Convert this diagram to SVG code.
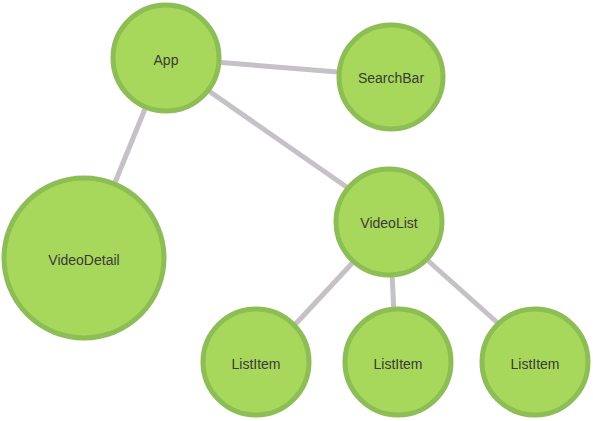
<svg xmlns="http://www.w3.org/2000/svg" width="593" height="421" viewBox="0 0 593 421">
<style>
.node circle{fill:#a8d85b;stroke:#8dbd55;stroke-width:5}
.node text{font-family:"Liberation Sans",Arial,sans-serif;font-size:14px;fill:#3a3a3a;text-anchor:middle;dominant-baseline:central}
.edge{stroke:#c6c1c6;stroke-width:5;stroke-linecap:butt;fill:none}
</style>
<rect width="593" height="421" fill="#ffffff"/>
<g id="connectors">
<line class="edge" x1="215" y1="62" x2="338" y2="72"/>
<line class="edge" x1="147" y1="104" x2="114" y2="185"/>
<line class="edge" x1="206" y1="89" x2="348" y2="188"/>
<line class="edge" x1="357" y1="258" x2="290" y2="330"/>
<line class="edge" x1="392" y1="272" x2="394" y2="314"/>
<line class="edge" x1="425" y1="258" x2="500" y2="325"/>
</g>
<g id="App" class="node"><circle cx="166" cy="58" r="53"/><text x="166" y="60">App</text></g>
<g id="SearchBar" class="node"><circle cx="391" cy="77" r="52"/><text x="391" y="78">SearchBar</text></g>
<g id="VideoDetail" class="node"><circle cx="84" cy="258" r="80"/><text x="84" y="260">VideoDetail</text></g>
<g id="VideoList" class="node"><circle cx="389" cy="222" r="53"/><text x="389" y="223">VideoList</text></g>
<g id="ListItem1" class="node"><circle cx="256" cy="362" r="53"/><text x="256" y="364">ListItem</text></g>
<g id="ListItem2" class="node"><circle cx="398" cy="362" r="53"/><text x="398" y="364">ListItem</text></g>
<g id="ListItem3" class="node"><circle cx="535" cy="362" r="53"/><text x="535" y="364">ListItem</text></g>
</svg>
